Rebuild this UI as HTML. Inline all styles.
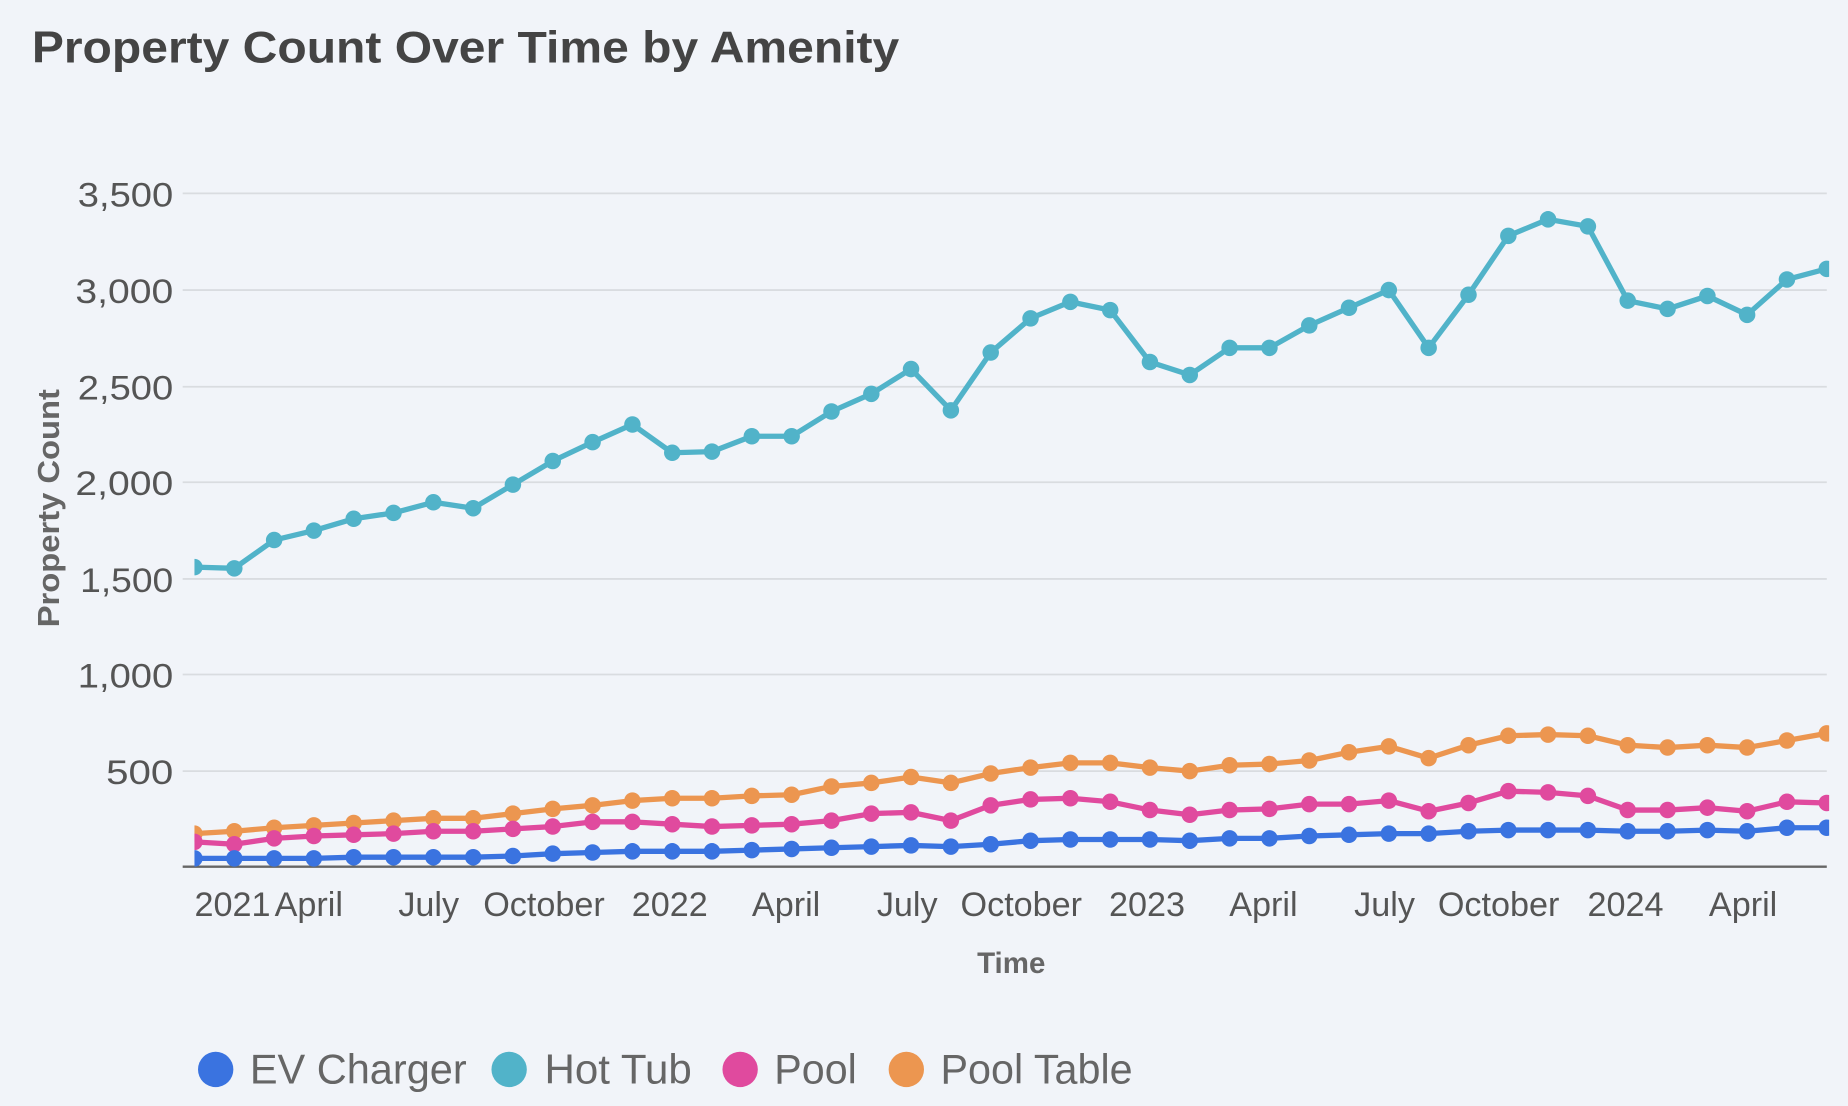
<!DOCTYPE html>
<html><head><meta charset="utf-8"><style>
html,body{margin:0;padding:0;background:#f1f4f9;}
svg{display:block;}
text{font-family:"Liberation Sans",sans-serif;}
</style></head><body>
<svg id="c" width="1848" height="1106" viewBox="0 0 1568 938" preserveAspectRatio="none" xmlns="http://www.w3.org/2000/svg">
<rect width="1568" height="938" fill="#f1f4f9"/>
<text x="27" y="53" font-size="38" font-weight="bold" fill="#444" textLength="736" lengthAdjust="spacingAndGlyphs">Property Count Over Time by Amenity</text>
<g stroke="#d9dce0" stroke-width="1.5">
<line x1="155" x2="1550" y1="164" y2="164"/><line x1="155" x2="1550" y1="246" y2="246"/>
<line x1="155" x2="1550" y1="328" y2="328"/><line x1="155" x2="1550" y1="409" y2="409"/>
<line x1="155" x2="1550" y1="491" y2="491"/><line x1="155" x2="1550" y1="572" y2="572"/>
<line x1="155" x2="1550" y1="654" y2="654"/>
</g>
<line x1="155" x2="1550" y1="735" y2="735" stroke="#666" stroke-width="2"/>
<g font-size="29" fill="#555" text-anchor="end">
<text x="147" y="175" textLength="81" lengthAdjust="spacingAndGlyphs">3,500</text><text x="147" y="257" textLength="83" lengthAdjust="spacingAndGlyphs">3,000</text><text x="147" y="339" textLength="81" lengthAdjust="spacingAndGlyphs">2,500</text>
<text x="147" y="420" textLength="83" lengthAdjust="spacingAndGlyphs">2,000</text><text x="147" y="502" textLength="79" lengthAdjust="spacingAndGlyphs">1,500</text><text x="147" y="583" textLength="81" lengthAdjust="spacingAndGlyphs">1,000</text>
<text x="147" y="665" textLength="57" lengthAdjust="spacingAndGlyphs">500</text>
</g>
<text transform="translate(50,431) rotate(-90)" font-size="26" font-weight="bold" fill="#666" text-anchor="middle" textLength="202" lengthAdjust="spacingAndGlyphs">Property Count</text>
<g font-size="29" fill="#555">
<text x="165" y="777">2021</text><text x="233" y="777">April</text><text x="338" y="777">July</text>
<text x="410" y="777">October</text><text x="536" y="777">2022</text><text x="638" y="777">April</text>
<text x="744" y="777">July</text><text x="815" y="777">October</text><text x="941" y="777">2023</text>
<text x="1043" y="777">April</text><text x="1149" y="777">July</text><text x="1220" y="777">October</text>
<text x="1347" y="777">2024</text><text x="1450" y="777">April</text>
</g>
<text x="858" y="825" font-size="25" font-weight="bold" fill="#666" text-anchor="middle">Time</text>
<defs><clipPath id="cp"><rect x="165" y="100" width="1387" height="640"/></clipPath></defs>
<g id="series" clip-path="url(#cp)"></g>
<g font-size="35" fill="#666">
<circle cx="183" cy="907" r="15" fill="#3a73e0"/><text x="212" y="919" textLength="184" lengthAdjust="spacingAndGlyphs">EV Charger</text>
<circle cx="432" cy="907" r="15" fill="#51b3c9"/><text x="462" y="919" textLength="125" lengthAdjust="spacingAndGlyphs">Hot Tub</text>
<circle cx="628" cy="907" r="15" fill="#e04a9e"/><text x="657" y="919" textLength="70" lengthAdjust="spacingAndGlyphs">Pool</text>
<circle cx="769" cy="907" r="15" fill="#ec9650"/><text x="798" y="919" textLength="163" lengthAdjust="spacingAndGlyphs">Pool Table</text>
</g>
</svg>
<script>
var S=[
["#ec9650",[707,705,702,700,698,696,694,694,690,686,683,679,677,677,675,674,667,664,659,664,656,651,647,647,651,654,649,648,645,638,633,643,632,624,623,624,632,634,632,634,628,622]],
["#e04a9e",[714,716,711,709,708,707,705,705,703,701,697,697,699,701,700,699,696,690,689,696,683,678,677,680,687,691,687,686,682,682,679,688,681,671,672,675,687,687,685,688,680,681]],
["#3a73e0",[728,728,728,728,727,727,727,727,726,724,723,722,722,722,721,720,719,718,717,718,716,713,712,712,712,713,711,711,709,708,707,707,705,704,704,704,705,705,704,705,702,702]],
["#51b3c9",[481,482,458,450,440,435,426,431,411,391,375,360,384,383,370,370,349,334,313,348,299,270,256,263,307,318,295,295,276,261,246,295,250,200,186,192,255,262,251,267,237,228]]
];
var g=document.getElementById('series'),h="";
S.forEach(function(s){var pts=s[1].map(function(y,i){return (165+i*1385/41).toFixed(1)+","+y;});
h+='<polyline fill="none" stroke="'+s[0]+'" stroke-width="4.5" stroke-linejoin="round" points="'+pts.join(" ")+'"/>';
pts.forEach(function(p){var a=p.split(",");h+='<circle cx="'+a[0]+'" cy="'+a[1]+'" r="7" fill="'+s[0]+'"/>';});});
g.innerHTML=h;
</script>
</body></html>
